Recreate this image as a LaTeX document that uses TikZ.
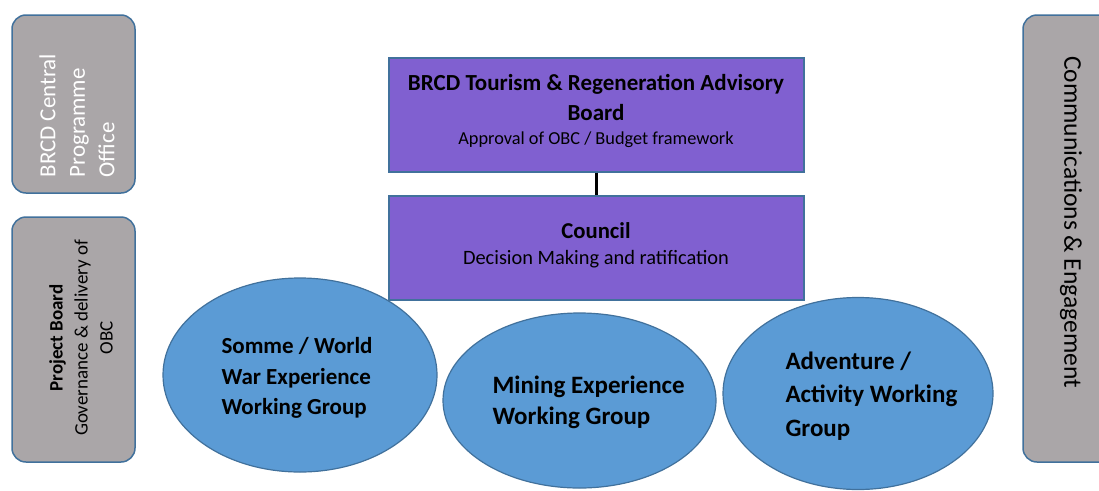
\documentclass[tikz,border=0pt]{standalone}
\usepackage{fontspec}
\setmainfont{Carlito}
\definecolor{sidegray}{RGB}{170,166,168}
\definecolor{edgeblue}{RGB}{65,113,156}
\definecolor{boxpurple}{RGB}{128,96,208}
\definecolor{ellblue}{RGB}{91,155,213}
\begin{document}
\begin{tikzpicture}[x=1pt,y=-1pt,
  sidebox/.style={draw=edgeblue,line width=1.5pt,fill=sidegray,rounded corners=14pt},
  purplebox/.style={draw=edgeblue,line width=1.5pt,fill=boxpurple},
  wgroup/.style={draw=edgeblue,line width=1.2pt,fill=ellblue},
  wtext/.style={font=\fontsize{25}{31}\selectfont\bfseries,align=left}]
\useasboundingbox (0,0) rectangle (1099,490);
\fill[white] (0,0) rectangle (1099,490);
% side boxes
\draw[sidebox] (12,15) rectangle (135,193);
\node[rotate=90,text=white,align=left,font=\fontsize{23}{29.5}\selectfont,anchor=west] (cpo) at (77,181) {BRCD Central\\Programme\\Office};
\draw[sidebox] (12,217) rectangle (135,462);
\node[rotate=90,align=center,font=\fontsize{19}{25}\selectfont] (pb) at (81,338) {\textbf{Project Board}\\Governance \& delivery of\\OBC};
\draw[sidebox] (1023,15) rectangle (1120,462);
\node[rotate=-90,font=\fontsize{25.5}{28}\selectfont] (ce) at (1071,222) {Communications \& Engagement};
% working groups (behind the boxes)
\draw[wgroup] (300,375) ellipse [x radius=137, y radius=97];
\node[wtext,font=\fontsize{23}{30.5}\selectfont\bfseries,anchor=west] (wg1) at (218,378) {Somme / World\\War Experience\\Working Group};
\draw[wgroup] (579.5,400.5) ellipse [x radius=136.5, y radius=87.5];
\node[wtext,anchor=west] (wg2) at (489,402) {Mining Experience\\Working Group};
\draw[wgroup] (858,393.5) ellipse [x radius=135, y radius=96];
\node[wtext,font=\fontsize{25}{33.5}\selectfont\bfseries,anchor=west] (wg3) at (782,396) {Adventure /\\Activity Working\\Group};
% central boxes
\node[purplebox,minimum width=415pt,minimum height=114pt,anchor=north west] (trab) at (388,57) {};
\node[align=center,font=\fontsize{23}{30}\selectfont\bfseries] (trabt) at (596,97) {BRCD Tourism \& Regeneration Advisory\\Board};
\node[font=\fontsize{18.3}{20}\selectfont] (trabs) at (596,140) {Approval of OBC / Budget framework};
\node[purplebox,minimum width=415pt,minimum height=104pt,anchor=north west] (council) at (388,195) {};
\node[font=\fontsize{22.7}{26}\selectfont\bfseries] (councilt) at (596,231) {Council};
\node[font=\fontsize{20.4}{24}\selectfont] (councils) at (596,259) {Decision Making and ratification};
\draw[line width=3pt] (trab.south) -- (council.north);
\end{tikzpicture}
\end{document}
